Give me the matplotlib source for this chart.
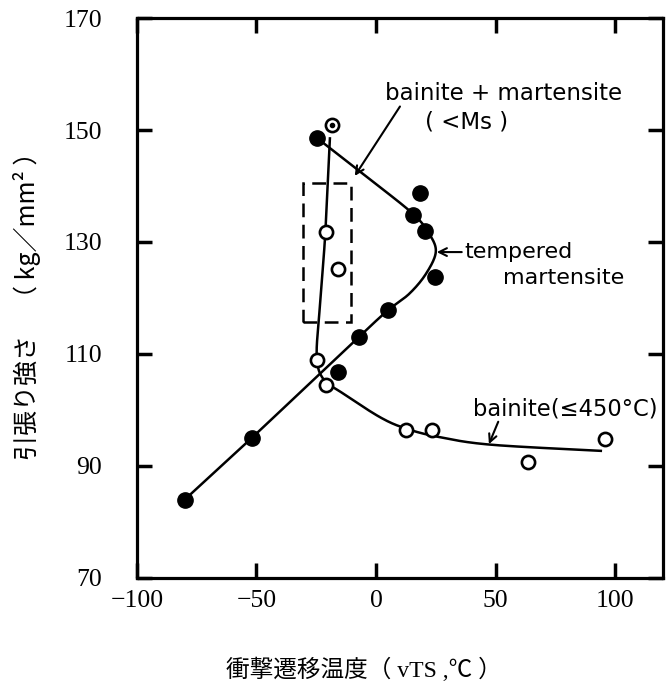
import matplotlib
matplotlib.use("Agg")
import matplotlib.pyplot as plt
from matplotlib.patches import Rectangle
import numpy as np

plt.rcParams['font.family'] = ['DejaVu Sans']

# tempered martensite (filled circles)
tm_x = [-80, -52, -16, -7, 5, 24.5, 20.3, 15.5, 18.5, -24.5]
tm_y = [84, 95, 106.8, 113, 117.8, 123.7, 132.0, 134.8, 138.7, 148.5]

# bainite / bainite + martensite (open circles)
bn_x = [-18.3, -21, -15.8, -24.8, -20.8, 12.4, 23.6, 63.6, 95.6]
bn_y = [150.9, 131.7, 125.2, 109.0, 104.5, 96.5, 96.5, 90.7, 94.8]

# hand-drawn guide curves (knots)
tm_curve_x = [-80, -52, -6.8, 5, 14, 21, 25, 22, 15, -5, -24.5]
tm_curve_y = [84, 95, 113.2, 117.8, 120.8, 124.4, 128.3, 131.6, 135.2, 142.0, 148.5]
bm_curve_x = [-19.3, -21.2, -23.6, -24.8, -22.0, -14, 1.7, 12.4, 26, 48, 94]
bm_curve_y = [148.5, 131.7, 118.0, 109.5, 105.5, 103.0, 98.7, 96.7, 95.2, 93.8, 92.7]

# dashed region (bainite + martensite, < Ms)
box_x = [-30.5, -10.3]
box_y = [115.8, 140.6]

x_ticks = [-100, -50, 0, 50, 100]
y_ticks = [70, 90, 110, 130, 150, 170]


def smooth(xs, ys, n=20):
    p = np.column_stack([xs, ys]).astype(float)
    p = np.vstack([p[0], p, p[-1]])
    t = np.linspace(0, 1, n, endpoint=False)[:, None]
    out = []
    for i in range(1, len(p) - 2):
        p0, p1, p2, p3 = p[i - 1], p[i], p[i + 1], p[i + 2]
        seg = 0.5 * (2 * p1 + (-p0 + p2) * t
                     + (2 * p0 - 5 * p1 + 4 * p2 - p3) * t ** 2
                     + (-p0 + 3 * p1 - 3 * p2 + p3) * t ** 3)
        out.append(seg)
    out.append(p[-2][None])
    c = np.vstack(out)
    return c[:, 0], c[:, 1]


fig = plt.figure(figsize=(6.68, 6.93), dpi=100)
ax = fig.add_axes([0.205, 0.166, 0.7875, 0.808])

cx, cy = smooth(tm_curve_x, tm_curve_y)
ax.plot(cx, cy, color='black', lw=1.8, zorder=2)
cx, cy = smooth(bm_curve_x, bm_curve_y)
ax.plot(cx, cy, color='black', lw=1.8, zorder=2)

ax.plot(tm_x, tm_y, 'o', color='black', ms=11, zorder=3)
ax.plot(bn_x, bn_y, 'o', mfc='white', mec='black', mew=1.9, ms=9.5, zorder=4)
ax.plot(bn_x[:1], bn_y[:1], 'o', color='black', ms=3, zorder=5)

ax.add_patch(Rectangle((box_x[0], box_y[0]), box_x[1] - box_x[0], box_y[1] - box_y[0],
                       fill=False, ec='black', lw=1.8, ls=(0, (5.5, 3)), zorder=2))

arrow = dict(arrowstyle='->', lw=1.5, color='black', shrinkA=0, shrinkB=0,
             mutation_scale=14)
ax.text(53.4, 156.5, 'bainite + martensite', fontsize=16.5, ha='center', va='center')
ax.text(37.8, 151.5, '( <Ms )', fontsize=16.5, ha='center', va='center')
ax.annotate('', xy=(-8.9, 141.8), xytext=(10, 154.2), arrowprops=arrow)
ax.annotate('tempered', xy=(25.4, 128.2), xytext=(37, 128.2), fontsize=16,
            ha='left', va='center', arrowprops=arrow)
ax.text(53, 123.6, 'martensite', fontsize=16, ha='left', va='center')
ax.text(40.5, 100.2, 'bainite(≤450°C)', fontsize=16.3, ha='left', va='center')
ax.annotate('', xy=(47.2, 93.9), xytext=(51.1, 97.9), arrowprops=arrow)

ax.set_xlim(-100, 120)
ax.set_ylim(70, 170)
ax.set_xticks(x_ticks)
ax.set_yticks(y_ticks)
ax.set_xticklabels(['\u2212100', '\u221250', '0', '50', '100'])
for s in ax.spines.values():
    s.set_linewidth(2.3)
ax.tick_params(direction='in', length=11, width=2.5, top=True, right=True,
               labelsize=18.5)
ax.tick_params(axis='x', pad=9)
ax.tick_params(axis='y', pad=25)
for lab in ax.get_xticklabels() + ax.get_yticklabels():
    lab.set_family('Liberation Serif')

fig.text(0.04, 0.567, '引張り強さ　（ kg／mm² ）', rotation=90, ha='center', va='center',
         fontsize=18, family=['Noto Sans CJK JP', 'DejaVu Sans'])
fig.text(0.545, 0.033, '衝撃遷移温度（ vTS ,℃ ）', ha='center', va='center',
         fontsize=17, family=['Liberation Serif', 'Noto Sans CJK JP'])

fig.savefig('out.png', dpi=100, facecolor='white')
